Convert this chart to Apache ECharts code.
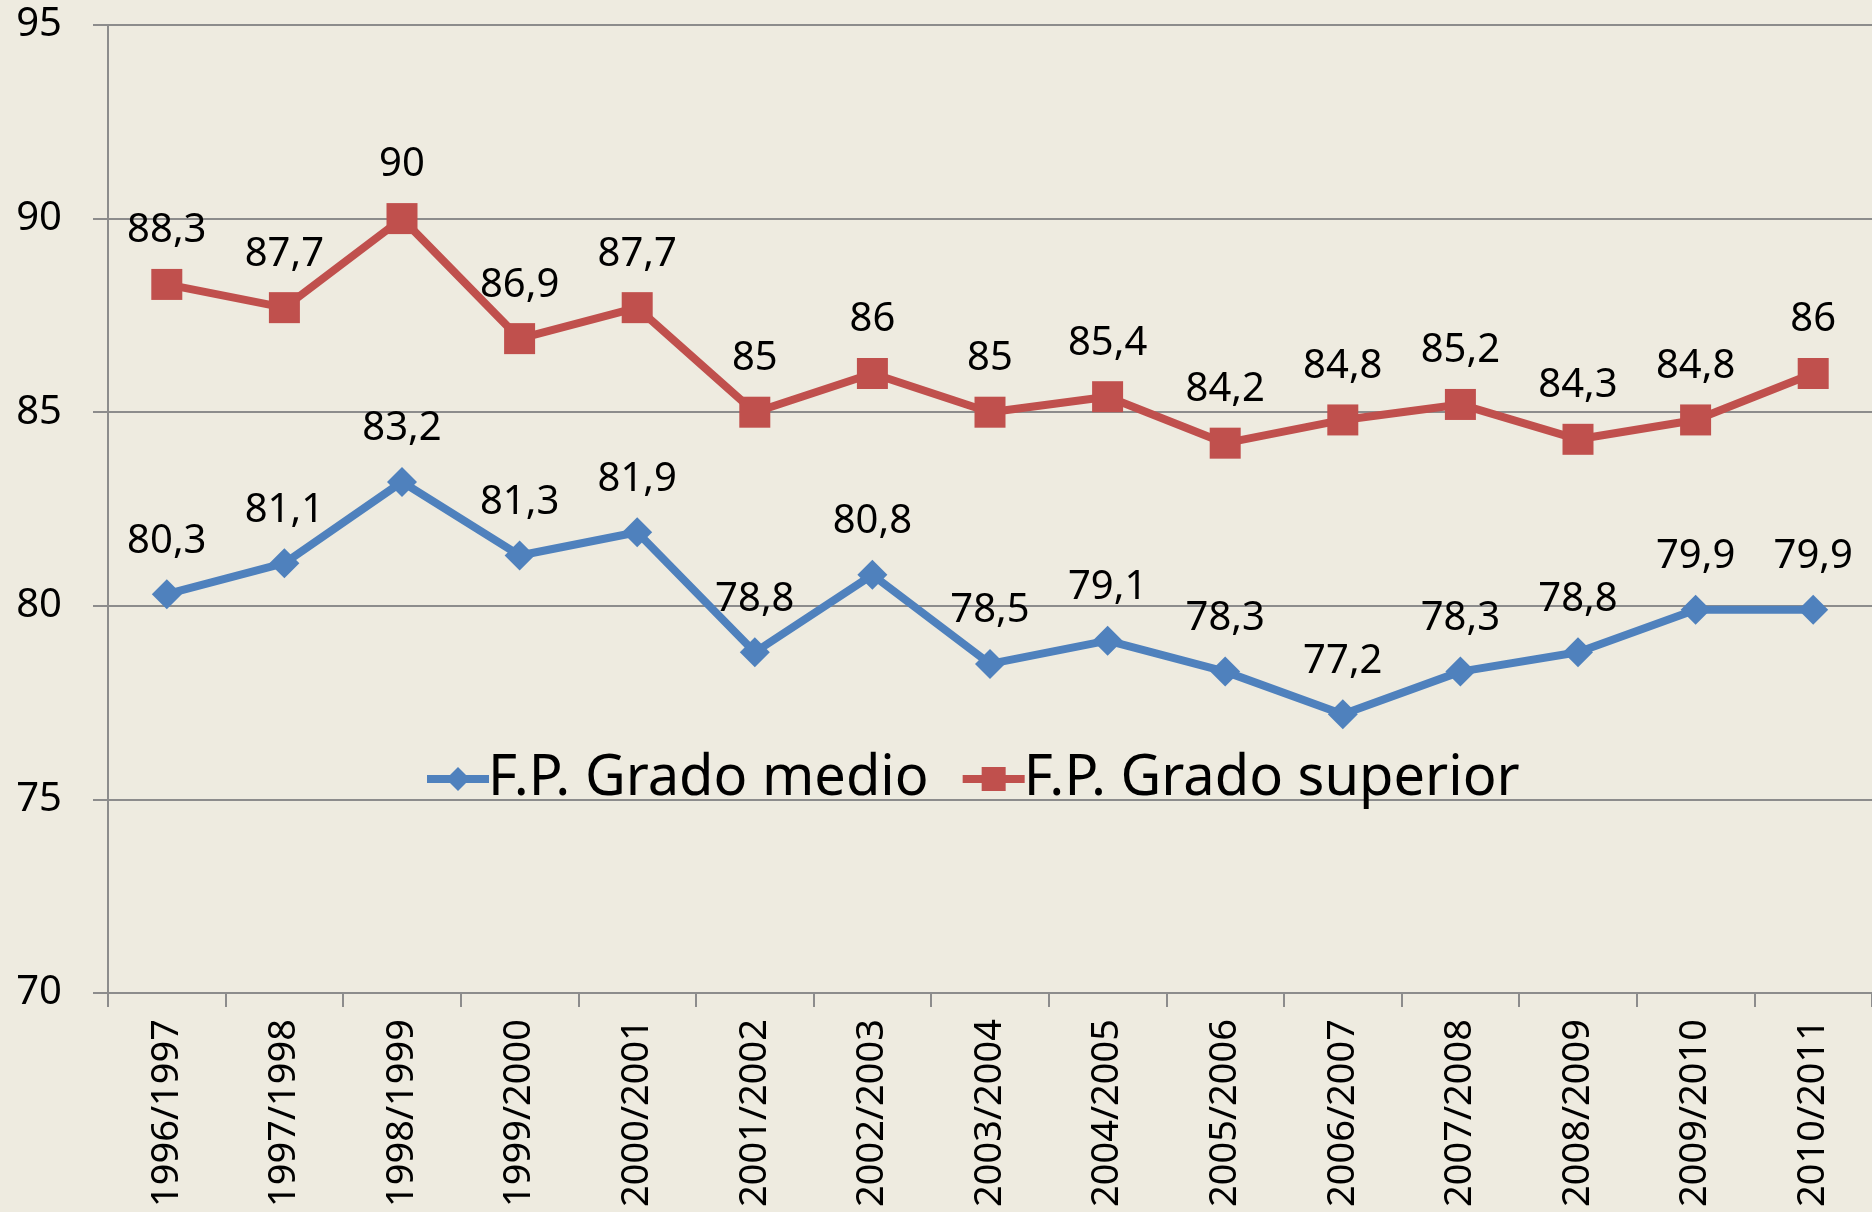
<!DOCTYPE html>
<html>
<head>
<meta charset="utf-8">
<script src="https://cdn.jsdelivr.net/npm/echarts@6/dist/echarts.min.js"></script>
<style>
  html, body { margin: 0; padding: 0; background: #EEEBE0; }
  #chart { width: 1872px; height: 1212px; }
</style>
</head>
<body>
<div id="chart"></div>
<script>
// cursos academicos
const cursos = ['1996/1997', '1997/1998', '1998/1999', '1999/2000', '2000/2001',
  '2001/2002', '2002/2003', '2003/2004', '2004/2005', '2005/2006',
  '2006/2007', '2007/2008', '2008/2009', '2009/2010', '2010/2011']

// valores por serie
const gradoMedio = [80.3, 81.1, 83.2, 81.3, 81.9, 78.8, 80.8, 78.5, 79.1, 78.3, 77.2, 78.3, 78.8, 79.9, 79.9]
const gradoSuperior = [88.3, 87.7, 90, 86.9, 87.7, 85, 86, 85, 85.4, 84.2, 84.8, 85.2, 84.3, 84.8, 86]

const yMin = 70
const yMax = 95
const yStep = 5

const FONT = '"Noto Sans", sans-serif'

// etiquetas con coma decimal
function fmtComa(p) {
  return String(p.value).replace('.', ',')
}

const chart = echarts.init(document.getElementById('chart'))

chart.setOption({
  backgroundColor: '#EEEBE0',
  animation: false,
  textStyle: { fontFamily: FONT },
  grid: {
    left: 108,
    right: 0,
    top: 25,
    bottom: 219
  },
  legend: {
    left: 418,
    top: 746,
    itemWidth: 62,
    itemHeight: 30,
    itemGap: 30,
    lineStyle: { width: 8 },
    textStyle: { fontSize: 56, color: '#000', fontFamily: FONT, padding: [0, 0, 0, -6] },
    data: ['F.P. Grado medio', 'F.P. Grado superior']
  },
  xAxis: {
    type: 'category',
    data: cursos,
    boundaryGap: true,
    axisLine: { lineStyle: { color: '#8c8c8c', width: 2 } },
    axisTick: { show: true, length: 14, lineStyle: { color: '#8c8c8c', width: 2 } },
    axisLabel: {
      rotate: 90,
      margin: 26,
      fontSize: 38,
      color: '#000',
      interval: 0
    }
  },
  yAxis: {
    type: 'value',
    min: yMin,
    max: yMax,
    interval: yStep,
    axisLine: { show: true, lineStyle: { color: '#8c8c8c', width: 2 } },
    axisTick: { show: true, length: 15, lineStyle: { color: '#8c8c8c', width: 2 } },
    splitLine: { lineStyle: { color: '#8c8c8c', width: 2 } },
    axisLabel: {
      margin: 46,
      fontSize: 40,
      color: '#000'
    }
  },
  series: [
    {
      name: 'F.P. Grado medio',
      type: 'line',
      data: gradoMedio,
      symbol: 'diamond',
      symbolSize: 30,
      lineStyle: { color: '#4F81BD', width: 8 },
      itemStyle: { color: '#4F81BD' },
      label: {
        show: true,
        position: 'top',
        distance: 18,
        fontSize: 40,
        color: '#000',
        formatter: fmtComa
      }
    },
    {
      name: 'F.P. Grado superior',
      type: 'line',
      data: gradoSuperior,
      symbol: 'rect',
      symbolSize: 31,
      lineStyle: { color: '#C0504D', width: 8 },
      itemStyle: { color: '#C0504D' },
      label: {
        show: true,
        position: 'top',
        distance: 18,
        fontSize: 40,
        color: '#000',
        formatter: fmtComa
      }
    }
  ]
})
</script>
</body>
</html>
